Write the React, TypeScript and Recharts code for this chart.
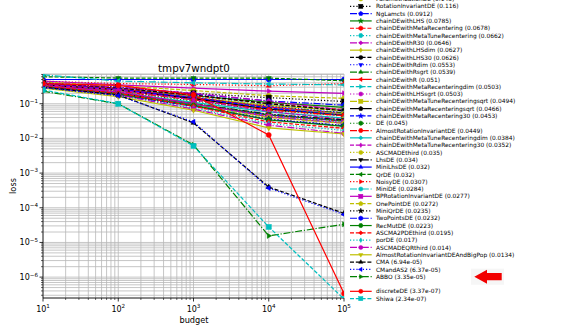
import React from 'react';
import { LineChart, Line, XAxis, YAxis, CartesianGrid } from 'recharts';

// ---------------- data ----------------
const budgets = [10, 100, 1000, 10000, 100000];

// legend is sorted by final loss; the first five entries sit above the visible page
const seriesNames = [
  'NGOptBase', 'CMandAS3', 'DiagonalCMA', 'TBPSA', 'PSO',
  'ParametrizationDE', 'RotationInvariantDE', 'NgLamcts', 'chainDEwithLHS',
  'chainDEwithMetaRecentering', 'chainDEwithMetaTuneRecentering', 'chainDEwithR30',
  'chainDEwithLHSdim', 'chainDEwithLHS30', 'chainDEwithRdim', 'chainDEwithRsgrt',
  'chainDEwithR', 'chainDEwithMetaRecenteringdim', 'chainDEwithLHSsgrt',
  'chainDEwithMetaTuneRecenteringsqrt', 'chainDEwithMetaRecenteringsqrt',
  'chainDEwithMetaRecentering30', 'DE', 'AlmostRotationInvariantDE',
  'chainDEwithMetaTuneRecenteringdim', 'chainDEwithMetaTuneRecentering30',
  'ASCMADEthird', 'LhsDE', 'MiniLhsDE', 'QrDE', 'NoisyDE', 'MiniDE',
  'BPRotationInvariantDE', 'OnePointDE', 'MiniQrDE', 'TwoPointsDE', 'RecMutDE',
  'ASCMA2PDEthird', 'porDE', 'ASCMADEQRthird', 'AlmostRotationInvariantDEAndBigPop',
  'CMA', 'CMandAS2', 'ABBO', 'discreteDE', 'Shiwa',
];

// loss at budgets 1e1 .. 1e5
const seriesValues: number[][] = [
  [0.5, 0.5, 0.5, 0.5, 0.5],
  [0.6, 0.55, 0.55, 0.55, 0.46],
  [0.45, 0.38, 0.36, 0.33, 0.38],
  [0.68, 0.45, 0.4, 0.37, 0.35],
  [0.45, 0.35, 0.28, 0.23, 0.2],
  [0.42, 0.33, 0.24, 0.17, 0.143],
  [0.4, 0.3, 0.2, 0.15, 0.116],
  [0.38, 0.3, 0.19, 0.12, 0.0912],
  [0.36, 0.27, 0.17, 0.11, 0.0785],
  [0.37, 0.28, 0.17, 0.1, 0.0678],
  [0.35, 0.26, 0.16, 0.095, 0.0662],
  [0.4, 0.3, 0.2, 0.12, 0.0646],
  [0.36, 0.25, 0.15, 0.09, 0.0627],
  [0.38, 0.28, 0.18, 0.1, 0.0626],
  [0.34, 0.24, 0.14, 0.085, 0.0553],
  [0.35, 0.25, 0.15, 0.08, 0.0539],
  [0.37, 0.27, 0.15, 0.08, 0.051],
  [0.33, 0.24, 0.14, 0.075, 0.0503],
  [0.36, 0.26, 0.15, 0.078, 0.0503],
  [0.34, 0.23, 0.13, 0.072, 0.0494],
  [0.35, 0.25, 0.14, 0.07, 0.0466],
  [0.37, 0.26, 0.15, 0.075, 0.0453],
  [0.33, 0.22, 0.12, 0.065, 0.045],
  [0.34, 0.23, 0.13, 0.066, 0.0449],
  [0.32, 0.21, 0.11, 0.058, 0.0384],
  [0.36, 0.25, 0.13, 0.06, 0.0352],
  [0.33, 0.2, 0.1, 0.05, 0.035],
  [0.3, 0.2, 0.1, 0.05, 0.034],
  [0.3, 0.19, 0.095, 0.048, 0.032],
  [0.31, 0.2, 0.1, 0.047, 0.032],
  [0.32, 0.21, 0.1, 0.045, 0.0307],
  [0.29, 0.18, 0.09, 0.042, 0.0284],
  [0.33, 0.22, 0.1, 0.042, 0.0277],
  [0.3, 0.19, 0.09, 0.04, 0.0272],
  [0.29, 0.18, 0.085, 0.036, 0.0235],
  [0.3, 0.18, 0.085, 0.035, 0.0232],
  [0.31, 0.19, 0.09, 0.034, 0.0223],
  [0.32, 0.2, 0.085, 0.03, 0.0195],
  [0.29, 0.17, 0.075, 0.027, 0.017],
  [0.3, 0.18, 0.07, 0.024, 0.014],
  [0.28, 0.16, 0.065, 0.02, 0.0134],
  [0.3, 0.18, 0.028, 3.96e-4, 6.94e-5],
  [0.29, 0.17, 0.03, 3.7e-4, 6.37e-5],
  [0.23, 0.1, 0.0065, 1.55e-5, 3.35e-5],
  [0.38, 0.34, 0.18, 0.0126, 3.37e-7],
  [0.25, 0.1, 0.0061, 2.8e-5, 2.34e-7],
];

const xMajorTicks = [10, 100, 1000, 10000, 100000];
const yMajorTicks = [1e-6, 1e-5, 1e-4, 1e-3, 1e-2, 1e-1];
const titleText = 'tmpv7wndpt0';
const xLabelText = 'budget';
const yLabelText = 'loss';
const separatorAfter = 'ABBO';
const highlighted = 'ABBO';

// ---------------- styles ----------------
const colorCycle = ['#0000ff', '#008000', '#ff0000', '#00bfbf', '#bf00bf', '#bfbf00', '#000000'];
const dashCycle = ['', '4 1.8', '1.2 2', '7 1.8 1.2 1.8'];
const markerCycle = ['o', 'v', '^', '<', '>', '8', 's', 'p', '*', 'h', 'H', 'D', 'd'];
const FONT = 'DejaVu Sans, sans-serif';

const styleOf = (i: number) => ({
  color: colorCycle[i % 7],
  dash: dashCycle[i % 4],
  marker: markerCycle[i % 13],
});

// minor ticks for log axes
const withMinor = (lo: number, hi: number) => {
  const out: number[] = [];
  for (let e = -8; e <= 6; e++) {
    for (let m = 1; m <= 9; m++) {
      const v = Number((m * Math.pow(10, e)).toPrecision(6));
      if (v >= lo * 0.9999 && v <= hi * 1.0001) out.push(v);
    }
  }
  return out;
};
const xDomain: [number, number] = [10, 100000];
const yDomain: [number, number] = [2.5e-7, 0.72];
const xTicks = withMinor(xDomain[0], xDomain[1]);
const yTicks = withMinor(yDomain[0], yDomain[1]);

const isMajor = (v: number, majors: number[]) => majors.some((m) => Math.abs(m - v) / m < 1e-6);

const rows = budgets.map((b, j) => {
  const r: Record<string, number> = { budget: b };
  seriesValues.forEach((vals, i) => {
    r['s' + i] = vals[j];
  });
  return r;
});

const fmt3g = (v: number) => {
  const e = Math.floor(Math.log10(Math.abs(v)));
  if (e < -4 || e >= 3) {
    let m = (v / Math.pow(10, e)).toPrecision(3);
    m = String(Number(m));
    const ae = Math.abs(e);
    return `${m}e${e < 0 ? '-' : '+'}${ae < 10 ? '0' + ae : ae}`;
  }
  return String(Number(v.toPrecision(3)));
};

// ---------------- markers ----------------
const poly = (cx: number, cy: number, n: number, r: number, rotDeg: number, sx = 1) => {
  const pts: string[] = [];
  for (let k = 0; k < n; k++) {
    const a = ((rotDeg + (360 * k) / n) * Math.PI) / 180;
    pts.push(`${cx + r * sx * Math.cos(a)},${cy + r * Math.sin(a)}`);
  }
  return pts.join(' ');
};
const star = (cx: number, cy: number, r: number) => {
  const pts: string[] = [];
  for (let k = 0; k < 10; k++) {
    const rr = k % 2 === 0 ? r : r * 0.4;
    const a = ((-90 + 36 * k) * Math.PI) / 180;
    pts.push(`${cx + rr * Math.cos(a)},${cy + rr * Math.sin(a)}`);
  }
  return pts.join(' ');
};

function MarkerShape({ t, cx, cy, s, c }: { t: string; cx: number; cy: number; s: number; c: string }) {
  const r = s / 2;
  const common = { fill: c, stroke: c, strokeWidth: 0.5 };
  switch (t) {
    case 's':
      return <rect x={cx - r * 0.9} y={cy - r * 0.9} width={s * 0.9} height={s * 0.9} {...common} />;
    case '^':
      return <polygon points={poly(cx, cy, 3, r * 1.05, -90)} {...common} />;
    case 'v':
      return <polygon points={poly(cx, cy, 3, r * 1.05, 90)} {...common} />;
    case '<':
      return <polygon points={poly(cx, cy, 3, r * 1.05, 180)} {...common} />;
    case '>':
      return <polygon points={poly(cx, cy, 3, r * 1.05, 0)} {...common} />;
    case 'p':
      return <polygon points={poly(cx, cy, 5, r, -90)} {...common} />;
    case 'h':
      return <polygon points={poly(cx, cy, 6, r, -90)} {...common} />;
    case 'H':
      return <polygon points={poly(cx, cy, 6, r, 0)} {...common} />;
    case 'D':
      return <polygon points={poly(cx, cy, 4, r * 0.9, 0)} {...common} />;
    case 'd':
      return <polygon points={poly(cx, cy, 4, r, -90, 0.6)} {...common} />;
    case '*':
      return <polygon points={star(cx, cy, r * 1.2)} {...common} />;
    default:
      return <circle cx={cx} cy={cy} r={r * 0.9} {...common} />;
  }
}

// ---------------- ticks ----------------
const XTick = (props: any) => {
  const { x, y, payload } = props;
  const v = payload.value as number;
  const major = isMajor(v, xMajorTicks);
  const e = Math.round(Math.log10(v));
  return (
    <g>
      <line x1={x} x2={x} y1={y} y2={y + (major ? 3.5 : 2)} stroke="#000" strokeWidth={major ? 0.8 : 0.6} />
      {major && (
        <text x={x} y={y + 14} textAnchor="middle" fontSize={8} fontFamily={FONT} fill="#000">
          10
          <tspan dy={-3.6} fontSize={5.6}>
            {e}
          </tspan>
        </text>
      )}
    </g>
  );
};

const YTick = (props: any) => {
  const { x, y, payload } = props;
  const v = payload.value as number;
  const major = isMajor(v, yMajorTicks);
  const e = Math.round(Math.log10(v));
  return (
    <g>
      <line x1={x - (major ? 3.5 : 2)} x2={x} y1={y} y2={y} stroke="#000" strokeWidth={major ? 0.8 : 0.6} />
      {major && (
        <text x={x - 5} y={y + 3} textAnchor="end" fontSize={8} fontFamily={FONT} fill="#000">
          10
          <tspan dy={-3.6} fontSize={5.6}>
            {'\u2212' + Math.abs(e)}
          </tspan>
        </text>
      )}
    </g>
  );
};

// ---------------- legend overlay ----------------
const LEG_TOP = -1;
const LEG_STEP = 7.308;

function LegendOverlay() {
  const sepIdx = seriesNames.indexOf(separatorAfter);
  return (
    <svg
      width={586}
      height={331}
      style={{ position: 'absolute', left: 0, top: 0, pointerEvents: 'none', overflow: 'hidden' }}
    >
      <text x={194} y={71.5} textAnchor="middle" fontSize={10.3} fontFamily={FONT} fill="#000">
        {titleText}
      </text>
      <text x={194} y={322.5} textAnchor="middle" fontSize={8.2} fontFamily={FONT} fill="#000">
        {xLabelText}
      </text>
      <text
        x={0}
        y={0}
        transform="translate(15.5,186) rotate(-90)"
        textAnchor="middle"
        fontSize={8.2}
        fontFamily={FONT}
        fill="#000"
      >
        {yLabelText}
      </text>
      {seriesNames.map((name, i) => {
        const st = styleOf(i);
        const y = LEG_TOP + (i - 5) * LEG_STEP + (i > sepIdx ? LEG_STEP : 0);
        if (y < -4) return null; // entries above the page edge are not visible
        const vals = seriesValues[i];
        return (
          <g key={name}>
            <line x1={350} x2={371.7} y1={y} y2={y} stroke={st.color} strokeWidth={1.2} strokeDasharray={st.dash || undefined} />
            <MarkerShape t={st.marker} cx={360.8} cy={y} s={4.6} c={st.color} />
            <text x={376} y={y + 2.15} fontSize={5.9} fontFamily={FONT} fill="#000">
              {`${name} (${fmt3g(vals[vals.length - 1])})`}
            </text>
          </g>
        );
      })}
      {(() => {
        const hi = seriesNames.indexOf(highlighted);
        const y = LEG_TOP + (hi - 5) * LEG_STEP;
        return (
          <g>
            <rect x={471} y={y - 8} width={33} height={16} fill="#f6f6f6" />
            <polygon
              points={`474.3,${y} 487,${y - 7} 487,${y - 3.6} 501.7,${y - 3.6} 501.7,${y + 3.6} 487,${y + 3.6} 487,${y + 7}`}
              fill="#f20000"
            />
          </g>
        );
      })()}
    </svg>
  );
}

export default function App() {
  return (
    <div style={{ position: 'absolute', left: 0, top: 0, width: 586, height: 331, background: '#fff', fontFamily: FONT }}>
      <LineChart width={586} height={331} data={rows} margin={{ top: 74, right: 242, bottom: 0, left: 0 }}>
        <CartesianGrid stroke="#b8b8b8" strokeWidth={0.8} />
        <XAxis
          dataKey="budget"
          type="number"
          scale="log"
          domain={xDomain}
          ticks={xTicks}
          interval={0}
          height={33}
          tickSize={0}
          tickMargin={0}
          tickLine={false}
          tick={<XTick />}
          axisLine={{ stroke: '#000', strokeWidth: 0.8 }}
          allowDataOverflow
        />
        <XAxis
          xAxisId="top"
          orientation="top"
          type="number"
          scale="log"
          dataKey="budget"
          domain={xDomain}
          height={0}
          tick={false}
          tickLine={false}
          axisLine={{ stroke: '#000', strokeWidth: 0.8 }}
          allowDataOverflow
        />
        <YAxis
          type="number"
          scale="log"
          domain={yDomain}
          ticks={yTicks}
          interval={0}
          width={43}
          tickSize={0}
          tickMargin={0}
          tickLine={false}
          tick={<YTick />}
          axisLine={{ stroke: '#000', strokeWidth: 0.8 }}
          allowDataOverflow
        />
        <YAxis
          yAxisId="right"
          orientation="right"
          type="number"
          scale="log"
          domain={yDomain}
          width={0}
          tick={false}
          tickLine={false}
          axisLine={{ stroke: '#000', strokeWidth: 0.8 }}
          allowDataOverflow
        />
        {seriesNames.map((name, i) => {
          const st = styleOf(i);
          return (
            <Line
              key={name}
              dataKey={'s' + i}
              name={name}
              stroke={st.color}
              strokeWidth={1.2}
              strokeDasharray={st.dash || undefined}
              isAnimationActive={false}
              activeDot={false}
              dot={(p: any) => (
                <MarkerShape key={`${name}-${p.index}`} t={st.marker} cx={p.cx} cy={p.cy} s={5.6} c={st.color} />
              )}
            />
          );
        })}
      </LineChart>
      <LegendOverlay />
    </div>
  );
}
